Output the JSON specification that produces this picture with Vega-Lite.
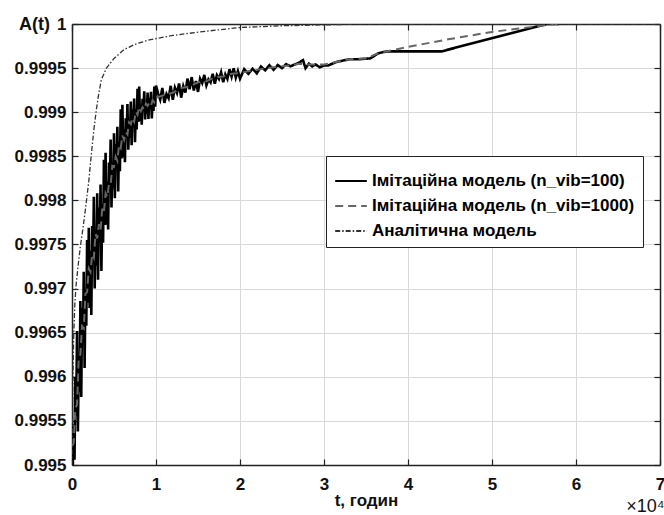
{
 "$schema": "https://vega.github.io/schema/vega-lite/v6.json",
 "width": 588,
 "height": 441,
 "autosize": {"type": "none"},
 "padding": {"left": 72, "top": 24, "right": 4, "bottom": 50},
 "background": "white",
 "config": {"view": {"stroke": null}, "font": "Liberation Sans"},
 "data": {"values": [
  {"series":"sim100","t":0,"A":0.99546},{"series":"sim100","t":100,"A":0.995},{"series":"sim100","t":200,"A":0.99546},{"series":"sim100","t":300,"A":0.99506},{"series":"sim100","t":400,"A":0.996},{"series":"sim100","t":500,"A":0.99556},{"series":"sim100","t":600,"A":0.99652},{"series":"sim100","t":700,"A":0.99538},{"series":"sim100","t":800,"A":0.99613},{"series":"sim100","t":900,"A":0.99583},
  {"series":"sim100","t":1000,"A":0.99686},{"series":"sim100","t":1100,"A":0.99577},{"series":"sim100","t":1200,"A":0.99678},{"series":"sim100","t":1300,"A":0.99639},{"series":"sim100","t":1400,"A":0.99719},{"series":"sim100","t":1500,"A":0.9961},{"series":"sim100","t":1600,"A":0.99699},{"series":"sim100","t":1700,"A":0.99658},{"series":"sim100","t":1800,"A":0.99755},{"series":"sim100","t":1900,"A":0.99684},
  {"series":"sim100","t":2000,"A":0.99769},{"series":"sim100","t":2100,"A":0.99678},{"series":"sim100","t":2200,"A":0.99743},{"series":"sim100","t":2300,"A":0.9967},{"series":"sim100","t":2400,"A":0.99771},{"series":"sim100","t":2500,"A":0.99728},{"series":"sim100","t":2600,"A":0.99804},{"series":"sim100","t":2700,"A":0.997},{"series":"sim100","t":2800,"A":0.99758},{"series":"sim100","t":2900,"A":0.99726},
  {"series":"sim100","t":3000,"A":0.99808},{"series":"sim100","t":3100,"A":0.9971},{"series":"sim100","t":3200,"A":0.99792},{"series":"sim100","t":3300,"A":0.99754},{"series":"sim100","t":3400,"A":0.99818},{"series":"sim100","t":3500,"A":0.9972},{"series":"sim100","t":3600,"A":0.99796},{"series":"sim100","t":3700,"A":0.99752},{"series":"sim100","t":3800,"A":0.99846},{"series":"sim100","t":3900,"A":0.99772},
  {"series":"sim100","t":4000,"A":0.99854},{"series":"sim100","t":4100,"A":0.997725},{"series":"sim100","t":4200,"A":0.998215},{"series":"sim100","t":4300,"A":0.99767},{"series":"sim100","t":4400,"A":0.99843},{"series":"sim100","t":4500,"A":0.99811},{"series":"sim100","t":4600,"A":0.99869},{"series":"sim100","t":4700,"A":0.99792},{"series":"sim100","t":4800,"A":0.998365},{"series":"sim100","t":4900,"A":0.998135},
  {"series":"sim100","t":5000,"A":0.99876},{"series":"sim100","t":5100,"A":0.998025},{"series":"sim100","t":5200,"A":0.99864},{"series":"sim100","t":5300,"A":0.998355},{"series":"sim100","t":5400,"A":0.998835},{"series":"sim100","t":5500,"A":0.9981},{"series":"sim100","t":5600,"A":0.998666},{"series":"sim100","t":5700,"A":0.998332},{"series":"sim100","t":5800,"A":0.999033},{"series":"sim100","t":5900,"A":0.998474},
  {"series":"sim100","t":6000,"A":0.999085},{"series":"sim100","t":6100,"A":0.998488},{"series":"sim100","t":6200,"A":0.998806},{"series":"sim100","t":6300,"A":0.998434},{"series":"sim100","t":6400,"A":0.998932},{"series":"sim100","t":6500,"A":0.99871},{"series":"sim100","t":6600,"A":0.999092},{"series":"sim100","t":6700,"A":0.998574},{"series":"sim100","t":6800,"A":0.998866},{"series":"sim100","t":6900,"A":0.998708},
  {"series":"sim100","t":7000,"A":0.99912},{"series":"sim100","t":7100,"A":0.998626},{"series":"sim100","t":7200,"A":0.999032},{"series":"sim100","t":7300,"A":0.998838},{"series":"sim100","t":7400,"A":0.999154},{"series":"sim100","t":7500,"A":0.99866},{"series":"sim100","t":7600,"A":0.999032},{"series":"sim100","t":7700,"A":0.998804},{"series":"sim100","t":7800,"A":0.999266},{"series":"sim100","t":7900,"A":0.998888},
  {"series":"sim100","t":8000,"A":0.99929},{"series":"sim100","t":8100,"A":0.9989},{"series":"sim100","t":8200,"A":0.999086},{"series":"sim100","t":8300,"A":0.998858},{"series":"sim100","t":8400,"A":0.999152},{"series":"sim100","t":8500,"A":0.999014},{"series":"sim100","t":8600,"A":0.999236},{"series":"sim100","t":8700,"A":0.998918},{"series":"sim100","t":8800,"A":0.999086},{"series":"sim100","t":8900,"A":0.998984},
  {"series":"sim100","t":9000,"A":0.999224},{"series":"sim100","t":9100,"A":0.998924},{"series":"sim100","t":9200,"A":0.999164},{"series":"sim100","t":9300,"A":0.999044},{"series":"sim100","t":9400,"A":0.99923},{"series":"sim100","t":9500,"A":0.99893},{"series":"sim100","t":9600,"A":0.999152},{"series":"sim100","t":9700,"A":0.999014},{"series":"sim100","t":9800,"A":0.99929},{"series":"sim100","t":9900,"A":0.999062},
  {"series":"sim100","t":10000,"A":0.999302},{"series":"sim100","t":10250,"A":0.999211},{"series":"sim100","t":10500,"A":0.999143},{"series":"sim100","t":10750,"A":0.999274},{"series":"sim100","t":11000,"A":0.999105},{"series":"sim100","t":11250,"A":0.999206},{"series":"sim100","t":11500,"A":0.999158},{"series":"sim100","t":11750,"A":0.999299},{"series":"sim100","t":12000,"A":0.99914},
  {"series":"sim100","t":12250,"A":0.999279},{"series":"sim100","t":12500,"A":0.999218},{"series":"sim100","t":12750,"A":0.999326},{"series":"sim100","t":13000,"A":0.999165},{"series":"sim100","t":13250,"A":0.999294},{"series":"sim100","t":13500,"A":0.999223},{"series":"sim100","t":13750,"A":0.999381},{"series":"sim100","t":14000,"A":0.99926},
  {"series":"sim100","t":14250,"A":0.999398},{"series":"sim100","t":14500,"A":0.999245},{"series":"sim100","t":14750,"A":0.999353},{"series":"sim100","t":15000,"A":0.99923},{"series":"sim100","t":15250,"A":0.99938},{"series":"sim100","t":15500,"A":0.999331},{"series":"sim100","t":15750,"A":0.999423},{"series":"sim100","t":16000,"A":0.999304},
  {"series":"sim100","t":16250,"A":0.999373},{"series":"sim100","t":16500,"A":0.999338},{"series":"sim100","t":16750,"A":0.999435},{"series":"sim100","t":17000,"A":0.999322},{"series":"sim100","t":17250,"A":0.999419},{"series":"sim100","t":17500,"A":0.999377},{"series":"sim100","t":17750,"A":0.999453},{"series":"sim100","t":18000,"A":0.99934},
  {"series":"sim100","t":18250,"A":0.999429},{"series":"sim100","t":18500,"A":0.999378},{"series":"sim100","t":18750,"A":0.999488},{"series":"sim100","t":19000,"A":0.999402},{"series":"sim100","t":19250,"A":0.999498},{"series":"sim100","t":19500,"A":0.999391},{"series":"sim100","t":19750,"A":0.999466},{"series":"sim100","t":20000,"A":0.99938},
  {"series":"sim100","t":20500,"A":0.999488},{"series":"sim100","t":21000,"A":0.999435},{"series":"sim100","t":21500,"A":0.999493},{"series":"sim100","t":22000,"A":0.99944},{"series":"sim100","t":22500,"A":0.999518},{"series":"sim100","t":23000,"A":0.999475},{"series":"sim100","t":23500,"A":0.999533},{"series":"sim100","t":24000,"A":0.99948},{"series":"sim100","t":24500,"A":0.999535},{"series":"sim100","t":25000,"A":0.9995},
  {"series":"sim100","t":25500,"A":0.999545},{"series":"sim100","t":26000,"A":0.99952},{"series":"sim100","t":26500,"A":0.99954},{"series":"sim100","t":27000,"A":0.99956},{"series":"sim100","t":27500,"A":0.99959},{"series":"sim100","t":27800,"A":0.9995},{"series":"sim100","t":28200,"A":0.99955},{"series":"sim100","t":28600,"A":0.99952},{"series":"sim100","t":29000,"A":0.99954},{"series":"sim100","t":29500,"A":0.99951},
  {"series":"sim100","t":30000,"A":0.99953},{"series":"sim100","t":30500,"A":0.99953},{"series":"sim100","t":31500,"A":0.99957},{"series":"sim100","t":33000,"A":0.9996},{"series":"sim100","t":34000,"A":0.9996},{"series":"sim100","t":35500,"A":0.99961},{"series":"sim100","t":36500,"A":0.99967},{"series":"sim100","t":37500,"A":0.99969},{"series":"sim100","t":44000,"A":0.99969},{"series":"sim100","t":56500,"A":1.0},{"series":"sim100","t":58000,"A":1.0},

  {"series":"sim1000","t":0,"A":0.99522},{"series":"sim1000","t":200,"A":0.99525},{"series":"sim1000","t":400,"A":0.99564},{"series":"sim1000","t":600,"A":0.995685},{"series":"sim1000","t":800,"A":0.99621},{"series":"sim1000","t":1000,"A":0.996255},{"series":"sim1000","t":1200,"A":0.996575},{"series":"sim1000","t":1400,"A":0.99655},{"series":"sim1000","t":1600,"A":0.99694},{"series":"sim1000","t":1800,"A":0.99696},
  {"series":"sim1000","t":2000,"A":0.99723},{"series":"sim1000","t":2200,"A":0.99719},{"series":"sim1000","t":2400,"A":0.99739},{"series":"sim1000","t":2600,"A":0.99735},{"series":"sim1000","t":2800,"A":0.99762},{"series":"sim1000","t":3000,"A":0.99757},{"series":"sim1000","t":3200,"A":0.99773},{"series":"sim1000","t":3400,"A":0.99766},{"series":"sim1000","t":3600,"A":0.99791},{"series":"sim1000","t":3800,"A":0.99787},
  {"series":"sim1000","t":4000,"A":0.99808},{"series":"sim1000","t":4200,"A":0.998038},{"series":"sim1000","t":4400,"A":0.998188},{"series":"sim1000","t":4600,"A":0.998177},{"series":"sim1000","t":4800,"A":0.99839},{"series":"sim1000","t":5000,"A":0.998379},{"series":"sim1000","t":5200,"A":0.998495},{"series":"sim1000","t":5400,"A":0.99845},{"series":"sim1000","t":5600,"A":0.998625},{"series":"sim1000","t":5800,"A":0.998593},
  {"series":"sim1000","t":6000,"A":0.998736},{"series":"sim1000","t":6200,"A":0.998686},{"series":"sim1000","t":6400,"A":0.998772},{"series":"sim1000","t":6600,"A":0.998747},{"series":"sim1000","t":6800,"A":0.998886},{"series":"sim1000","t":7000,"A":0.998865},{"series":"sim1000","t":7200,"A":0.998937},{"series":"sim1000","t":7400,"A":0.998894},{"series":"sim1000","t":7600,"A":0.999007},{"series":"sim1000","t":7800,"A":0.998971},
  {"series":"sim1000","t":8000,"A":0.99906},{"series":"sim1000","t":8200,"A":0.999014},{"series":"sim1000","t":8400,"A":0.999056},{"series":"sim1000","t":8600,"A":0.999029},{"series":"sim1000","t":8800,"A":0.999098},{"series":"sim1000","t":9000,"A":0.999071},{"series":"sim1000","t":9200,"A":0.999107},{"series":"sim1000","t":9400,"A":0.999074},{"series":"sim1000","t":9600,"A":0.999137},{"series":"sim1000","t":9800,"A":0.999113},
  {"series":"sim1000","t":10000,"A":0.999164},{"series":"sim1000","t":11000,"A":0.999195},{"series":"sim1000","t":12000,"A":0.99922},{"series":"sim1000","t":13000,"A":0.999275},{"series":"sim1000","t":14000,"A":0.99929},{"series":"sim1000","t":15000,"A":0.99934},{"series":"sim1000","t":16000,"A":0.99935},{"series":"sim1000","t":17000,"A":0.999395},{"series":"sim1000","t":18000,"A":0.999405},{"series":"sim1000","t":19000,"A":0.999435},
  {"series":"sim1000","t":20000,"A":0.999445},{"series":"sim1000","t":21000,"A":0.999465},{"series":"sim1000","t":22000,"A":0.99948},{"series":"sim1000","t":23000,"A":0.999495},{"series":"sim1000","t":24000,"A":0.99951},{"series":"sim1000","t":25000,"A":0.99952},{"series":"sim1000","t":26000,"A":0.99953},{"series":"sim1000","t":27000,"A":0.99955},{"series":"sim1000","t":28000,"A":0.99954},{"series":"sim1000","t":29000,"A":0.99954},
  {"series":"sim1000","t":30000,"A":0.99954},{"series":"sim1000","t":31000,"A":0.99956},{"series":"sim1000","t":32000,"A":0.99958},{"series":"sim1000","t":33000,"A":0.9996},{"series":"sim1000","t":35000,"A":0.99961},{"series":"sim1000","t":36500,"A":0.99967},{"series":"sim1000","t":37500,"A":0.99969},{"series":"sim1000","t":40000,"A":0.99974},{"series":"sim1000","t":45000,"A":0.99983},{"series":"sim1000","t":50000,"A":0.99991},{"series":"sim1000","t":55000,"A":0.99997},{"series":"sim1000","t":57500,"A":1.0},{"series":"sim1000","t":58000,"A":1.0},

  {"series":"analytic","t":0,"A":0.995},{"series":"analytic","t":100,"A":0.9959},{"series":"analytic","t":200,"A":0.99645},{"series":"analytic","t":350,"A":0.99685},{"series":"analytic","t":500,"A":0.99705},{"series":"analytic","t":750,"A":0.99728},{"series":"analytic","t":1000,"A":0.99748},{"series":"analytic","t":1300,"A":0.99768},{"series":"analytic","t":1600,"A":0.9979},{"series":"analytic","t":2000,"A":0.99822},
  {"series":"analytic","t":2300,"A":0.99852},{"series":"analytic","t":2600,"A":0.9988},{"series":"analytic","t":2900,"A":0.99903},{"series":"analytic","t":3200,"A":0.99922},{"series":"analytic","t":3500,"A":0.99937},{"series":"analytic","t":4100,"A":0.9995},{"series":"analytic","t":5000,"A":0.99961},{"series":"analytic","t":6200,"A":0.99971},{"series":"analytic","t":7500,"A":0.99977},{"series":"analytic","t":9200,"A":0.99982},
  {"series":"analytic","t":12000,"A":0.99987},{"series":"analytic","t":15200,"A":0.99991},{"series":"analytic","t":20000,"A":0.99996},{"series":"analytic","t":25000,"A":0.99998},{"series":"analytic","t":30000,"A":0.99999},{"series":"analytic","t":35000,"A":1.0},{"series":"analytic","t":70000,"A":1.0}
 ]},
 "layer": [
  {
   "transform": [{"filter": "datum.series == 'sim100'"}],
   "mark": {"type": "line", "clip": true, "strokeWidth": 2.6},
   "encoding": {
    "x": {"field": "t", "type": "quantitative", "scale": {"domain": [0, 70000], "nice": false, "zero": false},
      "axis": {"orient": "bottom", "values": [0,10000,20000,30000,40000,50000,60000,70000], "labelExpr": "datum.value / 10000",
        "title": "t, годин", "titleFontSize": 17, "titleFontWeight": "bold", "titleColor": "#111", "titleY": 40, "titleBaseline": "alphabetic",
        "grid": true, "gridColor": "#d8d8d8", "gridWidth": 1, "tickSize": -6, "tickColor": "#222", "tickWidth": 1.2,
        "domainColor": "#222", "domainWidth": 1.5, "labelFontSize": 17, "labelFontWeight": "bold", "labelColor": "#111", "labelPadding": 17, "labelFlush": false}},
    "y": {"field": "A", "type": "quantitative", "scale": {"domain": [0.995, 1], "nice": false, "zero": false},
      "axis": {"orient": "left", "values": [0.995,0.9955,0.996,0.9965,0.997,0.9975,0.998,0.9985,0.999,0.9995,1], "labelExpr": "format(datum.value, '.4~f')",
        "title": "A(t)", "titleAngle": 0, "titleAlign": "center", "titleBaseline": "alphabetic", "titleX": -38, "titleY": 5, "titleFontSize": 18, "titleFontWeight": "bold", "titleColor": "#111",
        "grid": true, "gridColor": "#d8d8d8", "gridWidth": 1, "tickSize": -6, "tickColor": "#222", "tickWidth": 1.2,
        "domainColor": "#222", "domainWidth": 1.5, "labelFontSize": 17, "labelFontWeight": "bold", "labelColor": "#111", "labelPadding": 12, "labelFlush": false}},
    "color": {"field": "series", "type": "nominal",
      "scale": {"domain": ["sim100", "sim1000", "analytic"], "range": ["#000000", "#666666", "#333333"]},
      "legend": {"orient": "none", "legendX": 254, "legendY": 132, "title": null,
        "labelExpr": "datum.value == 'sim100' ? 'Імітаційна модель (n_vib=100)' : datum.value == 'sim1000' ? 'Імітаційна модель (n_vib=1000)' : 'Аналітична модель'",
        "labelFont": "Liberation Sans", "labelFontSize": 17, "labelFontWeight": "bold", "labelColor": "#000", "labelLimit": 400, "labelOffset": 4,
        "symbolType": "stroke", "symbolSize": 1000, "symbolStrokeWidth": 2,
        "strokeColor": "#222", "fillColor": "white", "padding": 8, "rowPadding": -6}},
    "strokeDash": {"field": "series", "type": "nominal",
      "scale": {"domain": ["sim100", "sim1000", "analytic"], "range": [[1, 0], [8, 5], [5, 2, 1.5, 2]]}}
   }
  },
  {
   "transform": [{"filter": "datum.series == 'sim1000'"}],
   "mark": {"type": "line", "clip": true, "strokeWidth": 2},
   "encoding": {
    "x": {"field": "t", "type": "quantitative", "scale": {"domain": [0, 70000], "nice": false, "zero": false},
      "axis": {"orient": "top", "values": [0,10000,20000,30000,40000,50000,60000,70000], "labels": false, "grid": false,
        "tickSize": -6, "tickColor": "#222", "tickWidth": 1.2, "domainColor": "#222", "domainWidth": 1.5,
        "title": "×10⁴", "titleAlign": "right", "titleBaseline": "alphabetic", "titleX": 592, "titleY": 487, "titleFontSize": 18, "titleFontWeight": "normal", "titleColor": "#111"}},
    "y": {"field": "A", "type": "quantitative", "scale": {"domain": [0.995, 1], "nice": false, "zero": false},
      "axis": {"orient": "right", "values": [0.995,0.9955,0.996,0.9965,0.997,0.9975,0.998,0.9985,0.999,0.9995,1], "labels": false, "grid": false,
        "tickSize": -6, "tickColor": "#222", "tickWidth": 1.2, "domainColor": "#222", "domainWidth": 1.5, "title": null}},
    "color": {"field": "series", "type": "nominal",
      "scale": {"domain": ["sim100", "sim1000", "analytic"], "range": ["#000000", "#666666", "#333333"]}},
    "strokeDash": {"field": "series", "type": "nominal",
      "scale": {"domain": ["sim100", "sim1000", "analytic"], "range": [[1, 0], [8, 5], [5, 2, 1.5, 2]]}}
   }
  },
  {
   "transform": [{"filter": "datum.series == 'analytic'"}],
   "mark": {"type": "line", "clip": true, "strokeWidth": 1.3},
   "encoding": {
    "x": {"field": "t", "type": "quantitative", "scale": {"domain": [0, 70000], "nice": false, "zero": false}, "axis": null},
    "y": {"field": "A", "type": "quantitative", "scale": {"domain": [0.995, 1], "nice": false, "zero": false}, "axis": null},
    "color": {"field": "series", "type": "nominal",
      "scale": {"domain": ["sim100", "sim1000", "analytic"], "range": ["#000000", "#666666", "#333333"]}},
    "strokeDash": {"field": "series", "type": "nominal",
      "scale": {"domain": ["sim100", "sim1000", "analytic"], "range": [[1, 0], [8, 5], [5, 2, 1.5, 2]]}}
   }
  }
 ],
 "resolve": {"axis": {"x": "independent", "y": "independent"}}
}
